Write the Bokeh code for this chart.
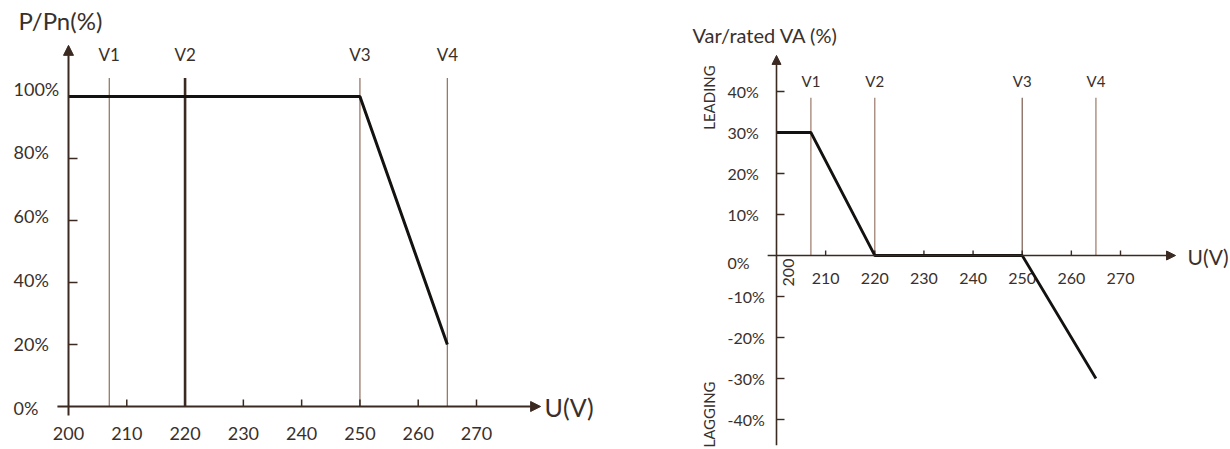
import math
from bokeh.plotting import figure
from bokeh.models import Range1d, Arrow, NormalHead
from bokeh.layouts import row
from bokeh.embed import file_html
from bokeh.resources import INLINE
from bokeh.core.properties import value

# ---------------- data ----------------
# Left chart: active power derating vs voltage
p_curve_x = [200, 250, 265]
p_curve_y = [100, 100, 20]
p_xticks = [200, 210, 220, 230, 240, 250, 260, 270]
p_xtick_labels = ["200", "210", "220", "230", "240", "250", "260", "270"]
p_yticks = [0, 20, 40, 60, 80, 100]
p_ytick_labels = ["0%", "20%", "40%", "60%", "80%", "100%"]

# Voltage markers (shared)
v_names = ["V1", "V2", "V3", "V4"]
v_volts = [207, 220, 250, 265]

# Right chart: reactive power vs voltage
q_curve_x = [200, 207, 220, 250, 265]
q_curve_y = [30, 30, 0, 0, -30]
q_xticks = [200, 210, 220, 230, 240, 250, 260, 270]
q_xtick_labels = ["200", "210", "220", "230", "240", "250", "260", "270"]
q_yticks = [40, 30, 20, 10, 0, -10, -20, -30, -40]
q_ytick_labels = ["40%", "30%", "20%", "10%", "0%", "-10%", "-20%", "-30%", "-40%"]

# ---------------- style ----------------
FONT = value("Lato")
TXT = "#3a302b"
AX = "#3b2a22"
VLINE = "#9a7868"
CURVE = "#141210"
H = 449


def make_fig(width, x0_px, px_per_v, y0_px, px_per_pct):
    xr = Range1d(200 - x0_px / px_per_v, 200 + (width - x0_px) / px_per_v)
    yr = Range1d(-(H - y0_px) / px_per_pct, y0_px / px_per_pct)
    p = figure(width=width, height=H, x_range=xr, y_range=yr,
               x_axis_location=None, y_axis_location=None,
               toolbar_location=None, output_backend="svg",
               min_border=0, outline_line_color=None,
               background_fill_color="white", border_fill_color="white")
    p.grid.visible = False
    return p


# ================= LEFT CHART =================
p1 = make_fig(623, 68, 408 / 70, 406, 3.1)

# V marker lines
p1.segment(x0=v_volts, y0=[0] * 4, x1=v_volts, y1=[106] * 4,
           line_color=[VLINE, AX, VLINE, VLINE], line_width=[1.3, 2.6, 1.3, 1.3])
p1.text(x=v_volts, y=[106] * 4, text=v_names, text_align="center",
        text_baseline="middle", y_offset=-23, text_font=FONT,
        text_font_size="17px", text_color=TXT)

# axes
p1.add_layout(Arrow(end=NormalHead(size=10, fill_color=AX, line_color=AX),
                    x_start=200, y_start=-2.9, x_end=200, y_end=116.5,
                    line_color=AX, line_width=2))
p1.add_layout(Arrow(end=NormalHead(size=10, fill_color=AX, line_color=AX),
                    x_start=198.1, y_start=0, x_end=281.0, y_end=0,
                    line_color=AX, line_width=2))

# ticks
p1.ray(x=[200] * 4, y=p_yticks[1:5], length=9, length_units="screen",
       angle=0, line_color=AX, line_width=1.5)
p1.ray(x=p_xticks[1:], y=[0] * 7, length=7, length_units="screen",
       angle=math.pi / 2, line_color=AX, line_width=1.5)

# tick labels
p1.text(x=[200] * len(p_yticks), y=p_yticks, text=p_ytick_labels,
        text_align="left", text_baseline="middle", x_offset=-55,
        y_offset=[1 - t * 0.09 for t in p_yticks],
        text_font=FONT, text_font_size="18px", text_color=TXT)
p1.text(x=p_xticks, y=[0] * len(p_xticks), text=p_xtick_labels,
        text_align="center", text_baseline="middle", y_offset=27,
        text_font=FONT, text_font_size="18px", text_color=TXT)

# curve
p1.line(p_curve_x, p_curve_y, line_color=CURVE, line_width=3)

# axis titles
p1.text(x=[200], y=[116.5], text=["P/Pn(%)"], text_align="left",
        text_baseline="middle", x_offset=-50, y_offset=-25,
        text_font=FONT, text_font_size="24px", text_color=TXT)
p1.text(x=[281.0], y=[0], text=["U(V)"], text_align="left",
        text_baseline="middle", x_offset=4, y_offset=0,
        text_font=FONT, text_font_size="25px", text_color=TXT)

# ================= RIGHT CHART =================
p2 = make_fig(607, 153, 344 / 70, 255, 4.1)

p2.segment(x0=v_volts, y0=[0] * 4, x1=v_volts, y1=[38.5] * 4,
           line_color=[VLINE, VLINE, "#7a5a4c", VLINE], line_width=1.2)
p2.text(x=v_volts, y=[38.5] * 4, text=v_names, text_align="center",
        text_baseline="middle", y_offset=-17, text_font=FONT,
        text_font_size="15px", text_color=TXT)

p2.add_layout(Arrow(end=NormalHead(size=9, fill_color=AX, line_color=AX),
                    x_start=200, y_start=-46.3, x_end=200, y_end=48.8,
                    line_color=AX, line_width=1.6))
p2.add_layout(Arrow(end=NormalHead(size=9, fill_color=AX, line_color=AX),
                    x_start=198.2, y_start=0, x_end=281.2, y_end=0,
                    line_color=AX, line_width=1.6))

q_ytk = [t for t in q_yticks if t != 0]
p2.ray(x=[200] * len(q_ytk), y=q_ytk, length=8, length_units="screen",
       angle=0, line_color=AX, line_width=1.4)
p2.ray(x=q_xticks[1:], y=[0] * 7, length=5, length_units="screen",
       angle=math.pi / 2, line_color=AX, line_width=1.4)

p2.text(x=[200] * len(q_yticks), y=q_yticks, text=q_ytick_labels,
        text_align="left", text_baseline="middle", x_offset=-49,
        y_offset=[7 if t == 0 else 0 for t in q_yticks],
        text_font=FONT, text_font_size="16px", text_color=TXT)
p2.text(x=q_xticks[1:], y=[0] * 7, text=q_xtick_labels[1:],
        text_align="center", text_baseline="middle", y_offset=23,
        text_font=FONT, text_font_size="16px", text_color=TXT)
p2.text(x=q_xticks[:1], y=[0], text=q_xtick_labels[:1], angle=math.pi / 2,
        text_align="center", text_baseline="middle", x_offset=12, y_offset=17,
        text_font=FONT, text_font_size="16px", text_color=TXT)

p2.line(q_curve_x, q_curve_y, line_color=CURVE, line_width=2.8)

p2.text(x=[200], y=[48.8], text=["Var/rated VA (%)"], text_align="left",
        text_baseline="middle", x_offset=-84, y_offset=-20,
        text_font=FONT, text_font_size="20px", text_color=TXT)
p2.text(x=[281.2], y=[0], text=["U(V)"], text_align="left",
        text_baseline="middle", x_offset=12, y_offset=1,
        text_font=FONT, text_font_size="21px", text_color=TXT)
p2.text(x=[200, 200], y=[40, -40], text=["LEADING", "LAGGING"], angle=math.pi / 2,
        text_align="center", text_baseline="middle", x_offset=-68, y_offset=[6, -5],
        text_font=FONT, text_font_size="15px", text_color=TXT)

layout = row(p1, p2)
open("out.html", "w").write(file_html(layout, INLINE))
